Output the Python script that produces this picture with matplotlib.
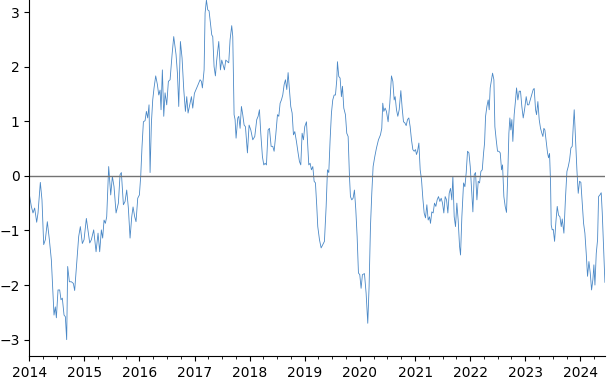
import matplotlib
matplotlib.use('Agg')
import matplotlib.pyplot as plt
import matplotlib.dates as mdates
import numpy as np
import pandas as pd

years = [
    2014.007, 2014.037, 2014.067, 2014.097, 2014.134, 2014.158, 2014.200, 2014.230,
    2014.261, 2014.291, 2014.327, 2014.364, 2014.400, 2014.448, 2014.472, 2014.491,
    2014.521, 2014.551, 2014.575, 2014.599, 2014.630, 2014.654, 2014.678, 2014.696,
    2014.727, 2014.763, 2014.799, 2014.823, 2014.872, 2014.896, 2014.926, 2014.962,
    2014.993, 2015.035, 2015.071, 2015.096, 2015.126, 2015.168, 2015.211, 2015.247,
    2015.277, 2015.307, 2015.331, 2015.356, 2015.380, 2015.404, 2015.440, 2015.477,
    2015.507, 2015.537, 2015.574, 2015.616, 2015.646, 2015.670, 2015.707, 2015.737,
    2015.767, 2015.797, 2015.828, 2015.858, 2015.882, 2015.912, 2015.936, 2015.967,
    2015.997, 2016.021, 2016.045, 2016.070, 2016.100, 2016.124, 2016.148, 2016.172,
    2016.191, 2016.215, 2016.239, 2016.263, 2016.293, 2016.324, 2016.348, 2016.372,
    2016.390, 2016.414, 2016.439, 2016.463, 2016.493, 2016.523, 2016.554, 2016.590,
    2016.620, 2016.662, 2016.687, 2016.711, 2016.741, 2016.771, 2016.802, 2016.832,
    2016.856, 2016.880, 2016.911, 2016.941, 2016.965, 2016.995, 2017.025, 2017.062,
    2017.098, 2017.122, 2017.140, 2017.171, 2017.189, 2017.213, 2017.237, 2017.261,
    2017.285, 2017.310, 2017.328, 2017.352, 2017.376, 2017.400, 2017.437, 2017.467,
    2017.491, 2017.515, 2017.540, 2017.564, 2017.594, 2017.618, 2017.642, 2017.672,
    2017.691, 2017.715, 2017.733, 2017.751, 2017.782, 2017.800, 2017.824, 2017.848,
    2017.872, 2017.897, 2017.921, 2017.957, 2017.987, 2018.018, 2018.054, 2018.090,
    2018.126, 2018.151, 2018.175, 2018.199, 2018.229, 2018.254, 2018.278, 2018.302,
    2018.332, 2018.356, 2018.387, 2018.417, 2018.441, 2018.471, 2018.502, 2018.526,
    2018.550, 2018.574, 2018.598, 2018.623, 2018.647, 2018.671, 2018.695, 2018.719,
    2018.743, 2018.768, 2018.792, 2018.816, 2018.846, 2018.876, 2018.901, 2018.925,
    2018.949, 2018.973, 2018.997, 2019.028, 2019.046, 2019.070, 2019.094, 2019.118,
    2019.143, 2019.167, 2019.191, 2019.215, 2019.233, 2019.264, 2019.294, 2019.324,
    2019.354, 2019.385, 2019.409, 2019.433, 2019.457, 2019.481, 2019.505, 2019.530,
    2019.554, 2019.578, 2019.590, 2019.614, 2019.638, 2019.662, 2019.681, 2019.705,
    2019.735, 2019.759, 2019.784, 2019.808, 2019.826, 2019.850, 2019.874, 2019.898,
    2019.923, 2019.947, 2019.971, 2019.995, 2020.019, 2020.043, 2020.080, 2020.110,
    2020.140, 2020.164, 2020.189, 2020.213, 2020.237, 2020.267, 2020.298, 2020.334,
    2020.370, 2020.394, 2020.412, 2020.431, 2020.455, 2020.479, 2020.509, 2020.540,
    2020.570, 2020.595, 2020.619, 2020.637, 2020.661, 2020.685, 2020.710, 2020.740,
    2020.764, 2020.788, 2020.812, 2020.837, 2020.861, 2020.885, 2020.909, 2020.933,
    2020.958, 2020.982, 2021.006, 2021.024, 2021.043, 2021.067, 2021.091, 2021.115,
    2021.139, 2021.163, 2021.187, 2021.212, 2021.236, 2021.260, 2021.278, 2021.302,
    2021.326, 2021.351, 2021.375, 2021.399, 2021.423, 2021.448, 2021.472, 2021.496,
    2021.520, 2021.544, 2021.569, 2021.593, 2021.617, 2021.641, 2021.665, 2021.684,
    2021.708, 2021.732, 2021.756, 2021.780, 2021.805, 2021.823, 2021.847, 2021.878,
    2021.902, 2021.926, 2021.950, 2021.975, 2021.999, 2022.023, 2022.047, 2022.071,
    2022.095, 2022.120, 2022.144, 2022.168, 2022.192, 2022.217, 2022.241, 2022.259,
    2022.277, 2022.301, 2022.325, 2022.343, 2022.361, 2022.386, 2022.404, 2022.428,
    2022.446, 2022.470, 2022.494, 2022.518, 2022.543, 2022.567, 2022.585, 2022.609,
    2022.633, 2022.657, 2022.681, 2022.700, 2022.718, 2022.736, 2022.754, 2022.772,
    2022.796, 2022.821, 2022.839, 2022.863, 2022.887, 2022.911, 2022.935, 2022.960,
    2022.984, 2023.014, 2023.038, 2023.062, 2023.087, 2023.111, 2023.141, 2023.159,
    2023.184, 2023.202, 2023.226, 2023.250, 2023.274, 2023.298, 2023.317, 2023.335,
    2023.353, 2023.377, 2023.401, 2023.420, 2023.438, 2023.456, 2023.468, 2023.486,
    2023.505, 2023.529, 2023.553, 2023.577, 2023.601, 2023.626, 2023.650, 2023.668,
    2023.698, 2023.728, 2023.753, 2023.777, 2023.801, 2023.825, 2023.849, 2023.867,
    2023.885, 2023.909, 2023.934, 2023.958, 2023.982, 2024.006, 2024.031, 2024.055,
    2024.079, 2024.103, 2024.127, 2024.152, 2024.176, 2024.200, 2024.224, 2024.242,
    2024.261, 2024.285, 2024.309, 2024.327, 2024.351, 2024.375, 2024.394, 2024.418,
    2024.442,
]

values = [
    -0.38, -0.56, -0.68, -0.59, -0.85, -0.68, -0.12, -0.44,
    -1.26, -1.17, -0.84, -1.17, -1.54, -2.55, -2.40, -2.60,
    -2.09, -2.09, -2.27, -2.24, -2.55, -2.58, -3.00, -1.66,
    -1.94, -1.94, -1.97, -2.10, -1.42, -1.11, -0.93, -1.24,
    -1.17, -0.78, -1.05, -1.23, -1.17, -0.99, -1.39, -1.05,
    -1.39, -0.99, -1.14, -0.81, -0.87, -0.75, 0.17, -0.35,
    -0.01, -0.20, -0.68, -0.50, 0.02, 0.06, -0.53, -0.47,
    -0.26, -0.59, -1.14, -0.75, -0.57, -0.75, -0.84, -0.41,
    -0.35, -0.01, 0.54, 0.99, 1.01, 1.18, 1.06, 1.30,
    0.06, 0.97, 1.39, 1.61, 1.83, 1.67, 1.48, 1.57,
    1.21, 1.94, 1.09, 1.52, 1.30, 1.73, 1.76, 2.22,
    2.55, 2.22, 1.88, 1.27, 2.46, 2.16, 1.58, 1.18,
    1.45, 1.15, 1.30, 1.45, 1.24, 1.51, 1.58, 1.67,
    1.76, 1.73, 1.61, 1.94, 2.98, 3.22, 3.04, 3.02,
    2.80, 2.58, 2.55, 2.00, 1.83, 2.12, 2.46, 1.94,
    2.12, 2.03, 1.94, 2.12, 2.09, 2.07, 2.49, 2.75,
    2.55, 1.12, 1.03, 0.69, 1.06, 1.09, 0.87, 1.27,
    1.12, 0.93, 0.90, 0.42, 0.93, 0.84, 0.66, 0.72,
    1.03, 1.09, 1.21, 0.78, 0.35, 0.20, 0.23, 0.20,
    0.84, 0.87, 0.54, 0.54, 0.45, 0.75, 1.12, 1.09,
    1.33, 1.39, 1.48, 1.67, 1.76, 1.58, 1.89, 1.58,
    1.27, 1.15, 0.75, 0.81, 0.63, 0.42, 0.26, 0.20,
    0.78, 0.66, 0.90, 0.99, 0.66, 0.20, 0.23, 0.11,
    0.17, -0.10, -0.13, -0.56, -0.93, -1.17, -1.32, -1.26,
    -1.20, -0.56, 0.11, 0.06, 0.66, 1.15, 1.39, 1.48,
    1.48, 1.76, 2.09, 1.82, 1.79, 1.45, 1.64, 1.24,
    1.12, 0.78, 0.72, -0.01, -0.38, -0.44, -0.41, -0.26,
    -0.62, -1.11, -1.78, -1.81, -2.06, -1.81, -1.79, -2.15,
    -2.70, -2.03, -0.93, -0.32, 0.17, 0.35, 0.51, 0.66,
    0.75, 0.87, 1.33, 1.18, 1.24, 1.18, 0.99, 1.33,
    1.83, 1.73, 1.39, 1.45, 1.21, 1.09, 1.21, 1.56,
    1.24, 0.99, 0.97, 0.92, 1.03, 1.06, 0.90, 0.66,
    0.48, 0.45, 0.48, 0.39, 0.45, 0.60, 0.11, -0.07,
    -0.41, -0.68, -0.77, -0.53, -0.81, -0.75, -0.87, -0.66,
    -0.68, -0.50, -0.56, -0.44, -0.38, -0.47, -0.41, -0.50,
    -0.68, -0.38, -0.44, -0.68, -0.32, -0.23, -0.44, -0.01,
    -0.75, -0.93, -0.50, -0.81, -1.29, -1.45, -0.75, -0.13,
    -0.20, 0.06, 0.45, 0.42, 0.17, -0.26, -0.66, 0.02,
    0.06, -0.44, -0.10, -0.13, 0.08, 0.11, 0.42, 0.60,
    1.09, 1.27, 1.39, 1.21, 1.61, 1.76, 1.88, 1.76,
    0.90, 0.66, 0.45, 0.45, 0.42, 0.11, 0.20, -0.38,
    -0.56, -0.67, 0.06, 0.78, 1.06, 0.84, 1.03, 0.63,
    1.12, 1.39, 1.61, 1.39, 1.55, 1.55, 1.27, 1.06,
    1.21, 1.45, 1.30, 1.30, 1.39, 1.48, 1.58, 1.60,
    1.21, 1.12, 1.36, 1.03, 0.87, 0.78, 0.72, 0.87,
    0.84, 0.63, 0.42, 0.33, 0.41, -0.13, -0.90, -0.99,
    -0.98, -1.20, -0.84, -0.56, -0.72, -0.75, -0.93, -0.79,
    -1.05, -0.38, 0.08, 0.17, 0.29, 0.51, 0.54, 0.90,
    1.21, 0.66, 0.11, -0.32, -0.10, -0.12, -0.50, -0.87,
    -1.05, -1.42, -1.84, -1.57, -1.78, -2.09, -1.90, -1.63,
    -2.00, -1.42, -1.17, -0.38, -0.35, -0.31, -0.68, -1.29,
    -1.95,
]

year_arr = np.array(years)
dates = pd.to_datetime('2014-01-01') + pd.to_timedelta((year_arr - 2014) * 365.25, unit='D')

fig = plt.figure(figsize=(6.13, 3.82), dpi=100)
ax = fig.add_axes([0.0478, 0.068, 0.939, 0.932])

ax.plot(dates, values, color='#4a88c6', linewidth=0.6)
ax.axhline(0, color='0.45', linewidth=1.0)

ax.set_xlim(pd.Timestamp('2014-01-01'), dates[-1])
ax.set_ylim(-3.3, 3.22)
ax.set_yticks([-3, -2, -1, 0, 1, 2, 3])

ax.xaxis.set_major_locator(mdates.YearLocator())
ax.xaxis.set_major_formatter(mdates.DateFormatter('%Y'))
ax.xaxis.set_minor_locator(mdates.MonthLocator(bymonth=[4, 7, 10]))
ax.tick_params(axis='both', labelsize=10)
ax.tick_params(axis='x', which='minor', length=2)

ax.spines['top'].set_visible(False)
ax.spines['right'].set_visible(False)

plt.savefig('out.png', dpi=100)
